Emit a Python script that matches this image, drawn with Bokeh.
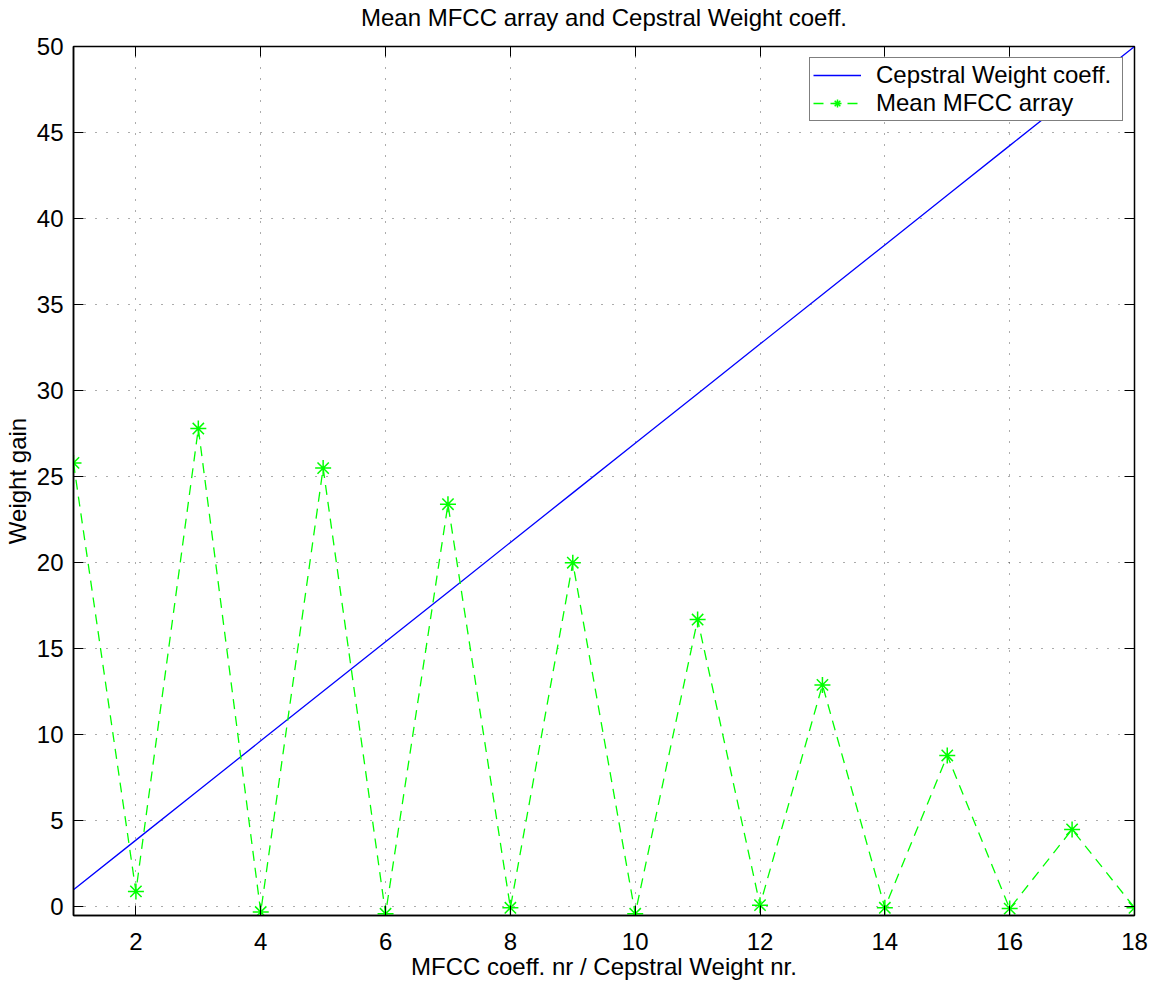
from bokeh.plotting import figure
from bokeh.models import LinearAxis, FixedTicker, Legend, LegendItem, Range1d
from bokeh.embed import file_html
from bokeh.resources import INLINE

# ---- data ----
coeff_nr = [1, 2, 3, 4, 5, 6, 7, 8, 9, 10, 11, 12, 13, 14, 15, 16, 17, 18]
cepstral_weight = [1.00, 3.88, 6.76, 9.65, 12.53, 15.41, 18.29, 21.18, 24.06,
                   26.94, 29.82, 32.71, 35.59, 38.47, 41.35, 44.24, 47.12, 50.00]
mean_mfcc = [25.8, 0.9, 27.8, -0.3, 25.5, -0.4, 23.4, -0.05, 20.0,
             -0.4, 16.7, 0.1, 12.9, -0.05, 8.8, -0.1, 4.5, -0.05]
x_ticks = [2, 4, 6, 8, 10, 12, 14, 16, 18]
y_ticks = [0, 5, 10, 15, 20, 25, 30, 35, 40, 45, 50]
title_text = "Mean MFCC array and Cepstral Weight coeff."

FONT = "Liberation Sans"
FS = "24px"

p = figure(width=1156, height=982,
           x_range=Range1d(1, 18), y_range=Range1d(-0.5, 50),
           output_backend="svg", toolbar_location=None,
           min_border_left=73, min_border_right=22,
           min_border_top=46, min_border_bottom=59)

p.outline_line_color = "black"
p.outline_line_width = 1.5
p.outline_line_alpha = 1.0

# main axes
for ax, ticks in ((p.xaxis[0], x_ticks), (p.yaxis[0], y_ticks)):
    ax.ticker = FixedTicker(ticks=ticks)
    ax.major_tick_in = 10
    ax.major_tick_out = 0
    ax.minor_tick_in = 0
    ax.minor_tick_out = 0
    ax.major_tick_line_color = "black"
    ax.axis_line_color = "black"
    ax.axis_line_width = 1.5
    ax.major_label_text_font = FONT
    ax.major_label_text_font_size = FS
    ax.major_label_text_color = "black"
    ax.axis_label_text_font = FONT
    ax.axis_label_text_font_size = FS
    ax.axis_label_text_font_style = "normal"
    ax.axis_label_text_color = "black"

p.xaxis.major_label_standoff = 17
p.yaxis.major_label_standoff = 10
p.xaxis.axis_label = "MFCC coeff. nr / Cepstral Weight nr."
p.yaxis.axis_label = "Weight gain"
p.xaxis.axis_label_standoff = 0
p.yaxis.axis_label_standoff = 3

# mirrored tick axes (top / right); the top one carries the title text
top_ax = LinearAxis(ticker=FixedTicker(ticks=x_ticks), major_tick_in=10, major_tick_out=0,
                    minor_tick_in=0, minor_tick_out=0, major_label_text_font_size="0px",
                    major_label_text_alpha=0, major_label_standoff=0,
                    axis_label=title_text, axis_label_standoff=16,
                    axis_label_text_font=FONT, axis_label_text_font_size=FS,
                    axis_label_text_font_style="normal", axis_label_text_color="black",
                    axis_line_color="black", major_tick_line_color="black")
right_ax = LinearAxis(ticker=FixedTicker(ticks=y_ticks), major_tick_in=10, major_tick_out=0,
                      minor_tick_in=0, minor_tick_out=0, major_label_text_font_size="0px",
                      major_label_text_alpha=0, major_label_standoff=0,
                      axis_label_standoff=0,
                      axis_line_color="black", major_tick_line_color="black")
p.add_layout(top_ax, "above")
p.add_layout(right_ax, "right")

# dotted grid
p.xgrid.ticker = FixedTicker(ticks=x_ticks)
p.ygrid.ticker = FixedTicker(ticks=y_ticks)
for g in (p.xgrid[0], p.ygrid[0]):
    g.grid_line_color = "black"
    g.grid_line_alpha = 0.65
    g.grid_line_dash = "1 10"
    g.grid_line_width = 1

# series
blue = p.line(coeff_nr, cepstral_weight, line_color="#0000ff", line_width=1.3)
green_line = p.line(coeff_nr, mean_mfcc, line_color="#00ff00", line_width=1.3,
                    line_dash="10 7")
green_pts = p.scatter(coeff_nr, mean_mfcc, marker="asterisk", size=16,
                      line_color="#00ff00", line_width=1.5)

legend = Legend(items=[
    LegendItem(label="Cepstral Weight coeff.", renderers=[blue]),
    LegendItem(label="Mean MFCC array", renderers=[green_line, green_pts]),
], location="top_right")
legend.margin = 11
legend.padding = 3
legend.spacing = 0
legend.glyph_width = 48
legend.glyph_height = 20
legend.label_standoff = 15
legend.label_width = 243
legend.label_text_font = FONT
legend.label_text_font_size = FS
legend.label_text_color = "black"
legend.border_line_color = "black"
legend.border_line_width = 1.5
legend.background_fill_color = "white"
legend.background_fill_alpha = 1.0
p.add_layout(legend)

open("out.html", "w").write(file_html(p, INLINE))
